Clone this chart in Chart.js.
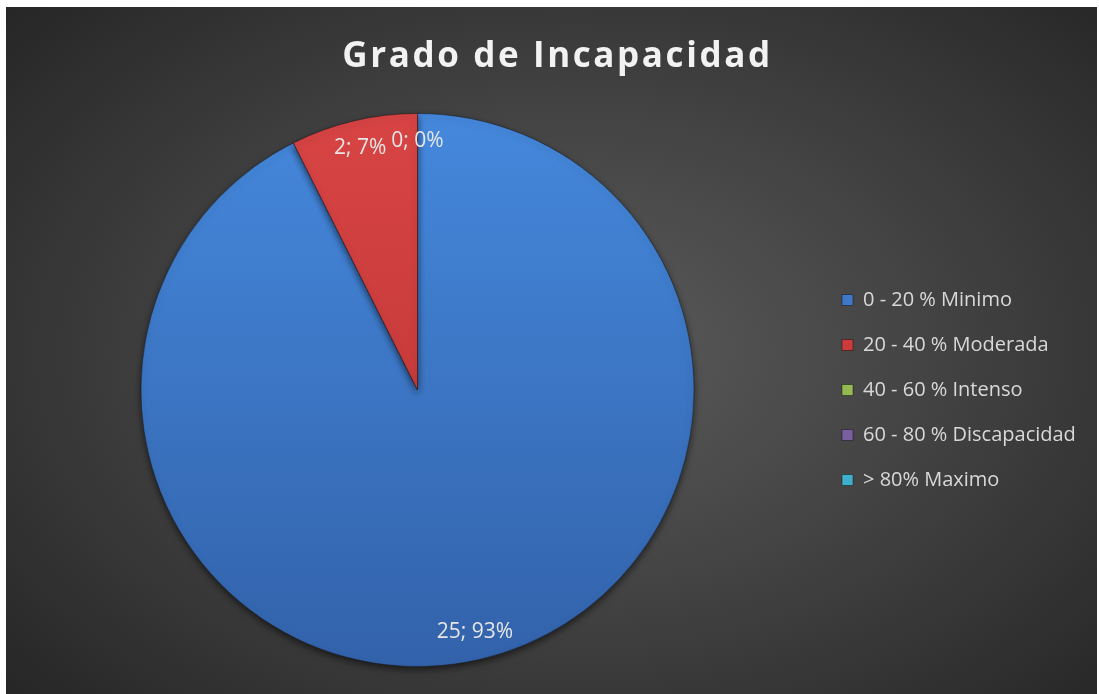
<!DOCTYPE html>
<html>
<head>
<meta charset="utf-8">
<script src="https://cdn.jsdelivr.net/npm/chart.js@4"></script>
<style>
  body { margin: 0; background: #ffffff; }
  #wrap {
    position: absolute; left: 6px; top: 7px; width: 1091px; height: 687px;
    background: radial-gradient(ellipse 70% 75% at 52% 50%, #5b5b5b 0%, #444444 45%, #262626 100%);
  }
</style>
</head>
<body>
<div id="wrap"><canvas id="pieChart" width="1091" height="687"></canvas></div>
<script>
var categories = ['0 - 20 % Minimo', '20 - 40 % Moderada', '40 - 60 % Intenso', '60 - 80 % Discapacidad', '> 80% Maximo'];
var counts = [25, 2, 0, 0, 0];
var sliceColors = ['#3f77c9', '#cc3b3b', '#94b852', '#7a5fa0', '#3fb0c9'];

Chart.defaults.font.family = "'Open Sans', sans-serif";

function sliceFill(context) {
    var chart = context.chart;
    var area = chart.chartArea;
    var i = context.dataIndex;
    if (!area) return sliceColors[i];
    var g = chart.ctx.createLinearGradient(0, area.top, 0, area.bottom);
    if (i === 0) {
        g.addColorStop(0, '#4588dc');
        g.addColorStop(1, '#3262aa');
    } else if (i === 1) {
        g.addColorStop(0, '#d84444');
        g.addColorStop(1, '#b83232');
    } else {
        return sliceColors[i];
    }
    return g;
}

// spaced title, fixed legend width, pie shadow, "value; percent" labels
var excelLook = {
    id: 'excelLook',
    beforeInit: function (chart) {
        var tb = chart.titleBlock;
        if (tb) {
            var origDraw = tb.draw;
            tb.draw = function () {
                var c = this.ctx;
                c.letterSpacing = '2.6px';
                origDraw.apply(this, arguments);
                c.letterSpacing = '0px';
            };
        }
        var lg = chart.legend;
        if (lg) {
            var origFit = lg.fit;
            lg.fit = function () {
                origFit.apply(this, arguments);
                this.width = 280;
            };
        }
    },
    beforeDatasetsDraw: function (chart) {
        var ctx = chart.ctx;
        ctx.save();
        ctx.shadowColor = 'rgba(0,0,0,0.55)';
        ctx.shadowBlur = 7;
        ctx.shadowOffsetY = 3;
    },
    afterDatasetsDraw: function (chart) {
        var ctx = chart.ctx;
        ctx.restore();
        var meta = chart.getDatasetMeta(0);
        var total = counts.reduce(function (a, b) { return a + b; }, 0);
        var done = {};
        ctx.save();
        ctx.font = "21px 'Open Sans', sans-serif";
        ctx.fillStyle = '#e6e6e6';
        ctx.textAlign = 'center';
        ctx.textBaseline = 'middle';
        meta.data.forEach(function (arc, i) {
            var p = arc.getProps(['x', 'y', 'startAngle', 'endAngle', 'outerRadius'], true);
            var mid = (p.startAngle + p.endAngle) / 2;
            var r = p.outerRadius * 0.9;
            var lx = p.x + Math.cos(mid) * r;
            var ly = p.y + Math.sin(mid) * r;
            var text = counts[i] + '; ' + Math.round(counts[i] / total * 100) + '%';
            var key = text + Math.round(lx) + ',' + Math.round(ly);
            if (done[key]) return;
            done[key] = true;
            ctx.fillText(text, lx, ly);
        });
        ctx.restore();
    }
};

var ctx = document.getElementById('pieChart').getContext('2d');
var pieChart = new Chart(ctx, {
    type: 'pie',
    data: {
        labels: categories,
        datasets: [{
            data: counts,
            backgroundColor: sliceFill,
            borderColor: 'rgba(20,20,20,0.45)',
            borderWidth: 1
        }]
    },
    options: {
        responsive: false,
        animation: false,
        layout: {
            padding: { top: 0, left: 12, right: 0, bottom: 27 }
        },
        plugins: {
            title: {
                display: true,
                text: 'Grado de Incapacidad',
                color: '#f2f2f2',
                font: { size: 35, weight: 'bold' },
                padding: { top: 29, bottom: 35 }
            },
            legend: {
                position: 'right',
                fullSize: false,
                labels: {
                    color: '#d9d9d9',
                    font: { size: 20 },
                    boxWidth: 11,
                    boxHeight: 11,
                    padding: 25,
                    generateLabels: function (chart) {
                        return categories.map(function (c, i) {
                            return {
                                text: c,
                                fillStyle: sliceColors[i],
                                strokeStyle: 'rgba(0,0,0,0.4)',
                                lineWidth: 1,
                                fontColor: '#d9d9d9',
                                hidden: false,
                                index: i
                            };
                        });
                    }
                }
            },
            tooltip: { enabled: false }
        }
    },
    plugins: [excelLook]
});
</script>
</body>
</html>
